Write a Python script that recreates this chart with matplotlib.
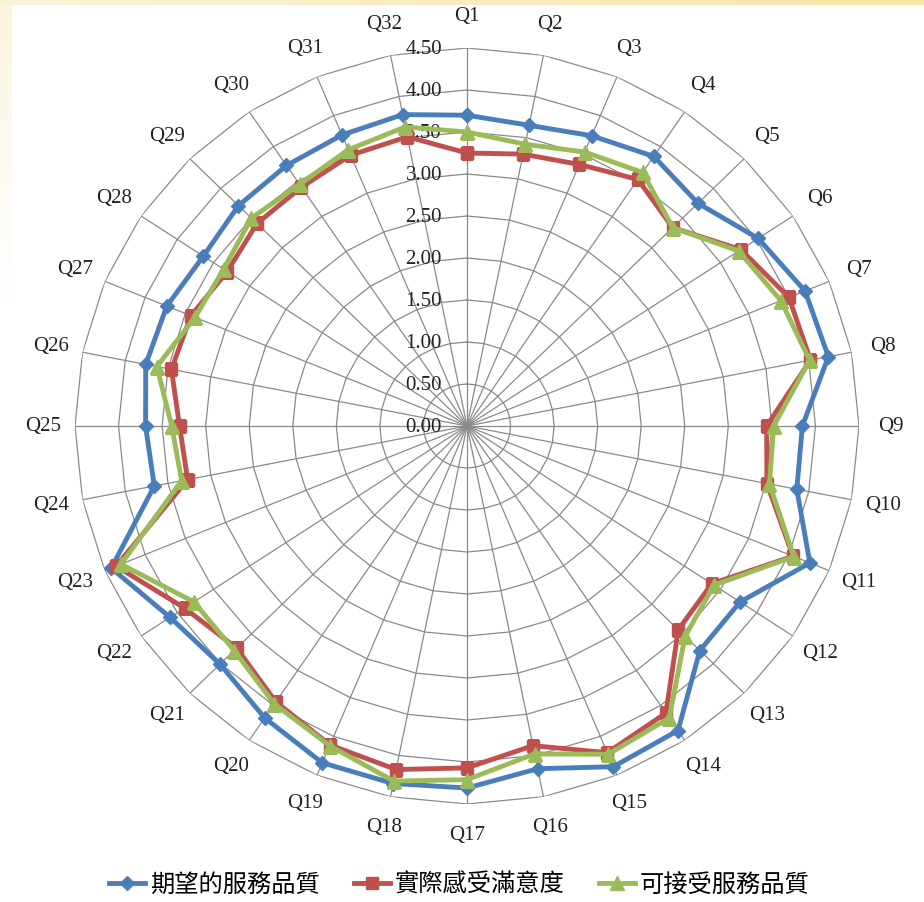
import numpy as np
import matplotlib
matplotlib.use("Agg")
import matplotlib.pyplot as plt

# survey items Q1..Q32
categories = ["Q%d" % i for i in range(1, 33)]

expected = [3.70, 3.65, 3.74, 3.86, 3.75, 4.02, 4.20, 4.23, 3.85, 3.86, 4.26, 3.77,
            3.78, 4.36, 4.39, 4.16, 4.31, 4.34, 4.34, 4.18, 4.01, 4.10, 4.42, 3.66,
            3.69, 3.76, 3.73, 3.64, 3.71, 3.73, 3.75, 3.78]
actual = [3.25, 3.30, 3.37, 3.53, 3.34, 3.78, 4.00, 4.02, 3.44, 3.51, 4.05, 3.38,
          3.43, 4.11, 4.21, 3.88, 4.07, 4.17, 4.11, 3.95, 3.74, 3.90, 4.36, 3.27,
          3.30, 3.46, 3.43, 3.31, 3.41, 3.42, 3.49, 3.51]
acceptable = [3.50, 3.42, 3.53, 3.63, 3.34, 3.75, 3.90, 4.01, 3.52, 3.54, 4.06, 3.41,
              3.54, 4.18, 4.23, 3.98, 4.21, 4.31, 4.12, 3.98, 3.78, 3.77, 4.30, 3.34,
              3.39, 3.63, 3.38, 3.36, 3.50, 3.46, 3.56, 3.63]

series_names = ["期望的服務品質", "實際感受滿意度", "可接受服務品質"]
rings = [0.0, 0.5, 1.0, 1.5, 2.0, 2.5, 3.0, 3.5, 4.0, 4.5]

serif = ["Liberation Serif", "DejaVu Serif"]
cjk = ["Noto Sans CJK TC", "DejaVu Sans"]
grid_col = "#8a8a8a"

fig = plt.figure(figsize=(9.24, 9.02), dpi=100)
fig.patch.set_facecolor("white")

# faint beige scan border at top and left
bg = fig.add_axes([0, 0, 1, 1], zorder=-5)
bg.set_xlim(0, 924)
bg.set_ylim(902, 0)
bg.axis("off")
top = np.linspace(0, 1, 200).reshape(1, -1)
bg.imshow(top, extent=(0, 924, 5, 0), aspect="auto",
          cmap=matplotlib.colors.LinearSegmentedColormap.from_list("t", ["#fcf3dc", "#f7e6a6"]))
left = np.linspace(0, 1, 200).reshape(-1, 1)
bg.imshow(left, extent=(0, 12, 300, 5), aspect="auto",
          cmap=matplotlib.colors.LinearSegmentedColormap.from_list("l", ["#fdf5e0", "#ffffff"]))

ax = fig.add_axes([75 / 924, 98 / 902, 784 / 924, 756 / 902], projection="polar")
ax.set_aspect("auto")
ax.set_theta_zero_location("N")
ax.set_theta_direction(-1)
ax.set_facecolor("none")
ax.grid(False)
ax.set_xticks([])
ax.set_yticks([])
ax.spines["polar"].set_visible(False)
ax.set_ylim(0, 4.5)

n = len(categories)
theta = np.arange(n) * 2 * np.pi / n
theta_closed = np.append(theta, theta[0])

# polygon rings and spokes
for r in rings[1:]:
    ax.plot(theta_closed, [r] * (n + 1), color=grid_col, lw=0.9, zorder=1)
for t in theta:
    ax.plot([t, t], [0, 4.5], color=grid_col, lw=0.9, zorder=1)

# ring value labels left of the Q1 spoke
for r in rings:
    ax.annotate("%.2f" % r, xy=(0, r), xytext=(-18, -1), textcoords="offset points",
                ha="right", va="center", fontsize=15, family=serif, color="#222222",
                zorder=2)

# item labels
for t, lab in zip(theta, categories):
    ax.text(t, 4.87, lab, ha="center", va="center", fontsize=15, family=serif,
            color="#222222")

styles = [
    (expected, "#4a7ebb", "D", 7.5),
    (actual, "#c0504d", "s", 8.5),
    (acceptable, "#9bbb59", "^", 9.5),
]
handles = []
for (vals, col, mk, ms), name in zip(styles, series_names):
    v = np.append(vals, vals[0])
    h, = ax.plot(theta_closed, v, color=col, lw=3.5, marker=mk, markersize=ms,
                 markerfacecolor=col, markeredgecolor=col, label=name, zorder=3)
    handles.append(h)

leg = fig.legend(handles=handles, loc="center", bbox_to_anchor=(0.497, 0.019), ncol=3,
                 frameon=False, handlelength=1.5, handletextpad=0.2, columnspacing=1.4,
                 prop={"family": cjk, "size": 17.5})

fig.savefig("out.png", dpi=100)
